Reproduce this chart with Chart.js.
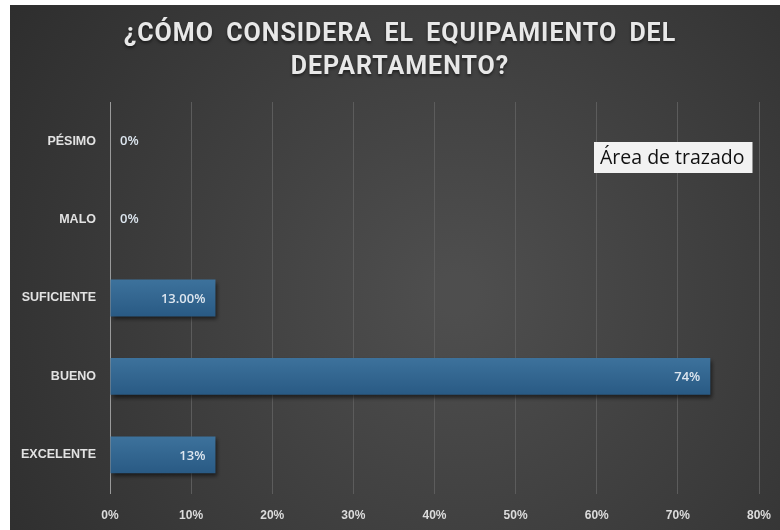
<!DOCTYPE html>
<html>
<head>
<meta charset="utf-8">
<script src="https://cdn.jsdelivr.net/npm/chart.js@4.4.1/dist/chart.umd.min.js"></script>
<style>
  html,body{margin:0;padding:0;background:#fff;}
  #wrap{position:absolute;left:10px;top:5px;width:770px;height:525px;}
</style>
</head>
<body>
<div id="wrap"><canvas id="chart" width="770" height="525"></canvas></div>
<script>
const categories = ['PÉSIMO', 'MALO', 'SUFICIENTE', 'BUENO', 'EXCELENTE'];
const values = [0, 0, 13, 74, 13];
const labelDecimals = [0, 0, 2, 0, 0];
const xTicks = [0, 10, 20, 30, 40, 50, 60, 70, 80];
const titleLines = ['¿CÓMO CONSIDERA EL EQUIPAMIENTO DEL', 'DEPARTAMENTO?'];
const hintText = 'Área de trazado';

(function(){
  const el = document.getElementById('chart');
  const BAR_PCT = 0.47;
  const FONT = '"Liberation Sans", Arial, sans-serif';

  // dark radial backdrop
  const backdrop = {
    id: 'backdrop',
    beforeDraw(chart){
      const { ctx, width, height } = chart;
      const g = ctx.createRadialGradient(width*0.58, height*0.55, 20, width*0.58, height*0.55, width*0.75);
      g.addColorStop(0, '#4e4e4e');
      g.addColorStop(1, '#2b2b2b');
      ctx.save();
      ctx.fillStyle = g;
      ctx.fillRect(0, 0, width, height);
      ctx.restore();
    }
  };

  // two-line heading
  const heading = {
    id: 'heading',
    afterDraw(chart){
      const { ctx } = chart;
      ctx.save();
      ctx.font = 'bold 25px Roboto, "Liberation Sans", sans-serif';
      ctx.letterSpacing = '1px';
      ctx.wordSpacing = '5px';
      ctx.fillStyle = '#e8e8e8';
      ctx.textAlign = 'center';
      ctx.textBaseline = 'middle';
      ctx.shadowColor = 'rgba(0,0,0,0.5)';
      ctx.shadowOffsetY = 2;
      ctx.shadowBlur = 3;
      ctx.fillText(titleLines[0], 390, 29.5);
      ctx.fillText(titleLines[1], 390, 62.5);
      ctx.restore();
    }
  };

  // bar shadow
  const barShadow = {
    id: 'barShadow',
    beforeDatasetDraw(chart){
      const ctx = chart.ctx;
      ctx.save();
      ctx.shadowColor = 'rgba(0,0,0,0.55)';
      ctx.shadowOffsetX = 2;
      ctx.shadowOffsetY = 3;
      ctx.shadowBlur = 4;
    },
    afterDatasetDraw(chart){ chart.ctx.restore(); }
  };

  // value labels at bar ends
  const valueLabels = {
    id: 'valueLabels',
    afterDatasetsDraw(chart){
      const { ctx } = chart;
      const meta = chart.getDatasetMeta(0);
      ctx.save();
      ctx.font = '600 13px "Open Sans", ' + FONT;
      ctx.fillStyle = '#dde6ef';
      ctx.textBaseline = 'middle';
      meta.data.forEach((bar, i) => {
        const txt = values[i].toFixed(labelDecimals[i]) + '%';
        if(values[i] > 0){
          ctx.textAlign = 'right';
          ctx.fillText(txt, bar.x - 10, bar.y + 1);
        } else {
          ctx.textAlign = 'left';
          ctx.fillText(txt, bar.base + 10, bar.y);
        }
      });
      ctx.restore();
    }
  };

  // plot-area hint box
  const hint = {
    id: 'hint',
    afterDraw(chart){
      const { ctx } = chart;
      ctx.save();
      ctx.font = '19.5px "Open Sans", ' + FONT;
      const w = ctx.measureText(hintText).width + 14;
      const x = 584, y = 137;
      ctx.fillStyle = '#f2f2f2';
      ctx.fillRect(x, y, w, 31);
      ctx.fillStyle = '#111';
      ctx.textBaseline = 'middle';
      ctx.fillText(hintText, x + 6, y + 16);
      ctx.restore();
    }
  };

  function barFill(c){
    const a = c.chart.chartArea;
    const ys = c.chart.scales.y;
    if(!a || !ys || c.dataIndex === undefined) return '#2e6089';
    const cy = ys.getPixelForValue(c.dataIndex);
    const h = (a.bottom - a.top) / categories.length * BAR_PCT;
    if(!isFinite(cy) || !isFinite(h)) return '#2e6089';
    const g = c.chart.ctx.createLinearGradient(0, cy - h/2, 0, cy + h/2);
    g.addColorStop(0, '#3d729c');
    g.addColorStop(1, '#295a84');
    return g;
  }

  new Chart(el, {
    type: 'bar',
    data: {
      labels: categories,
      datasets: [{
        data: values,
        backgroundColor: barFill,
        borderWidth: 0,
        categoryPercentage: 1,
        barPercentage: BAR_PCT
      }]
    },
    options: {
      indexAxis: 'y',
      responsive: false,
      animation: false,
      layout: { padding: { top: 97, right: 21, bottom: 0, left: 0 } },
      plugins: { legend: { display: false }, tooltip: { enabled: false }, title: { display: false } },
      scales: {
        x: {
          min: 0, max: 80,
          afterBuildTicks: (s) => { s.ticks = xTicks.map(v => ({ value: v })); },
          ticks: { callback: (v) => v + '%', color: '#dcdcdc', font: { family: FONT, size: 12, weight: 'bold' }, padding: 14 },
          grid: { color: (c) => c.index === 0 ? '#9a9a9a' : '#5c5c5c', lineWidth: 1, drawTicks: false },
          border: { display: false },
          afterFit: (s) => { s.height = 36; s.paddingLeft = 0; s.paddingRight = 0; }
        },
        y: {
          ticks: { color: '#e2e2e2', font: { family: FONT, size: 12.5, weight: 'bold' }, padding: 6 },
          grid: { display: false },
          border: { display: false },
          afterFit: (s) => { s.width = 100; }
        }
      }
    },
    plugins: [backdrop, barShadow, valueLabels, heading, hint]
  });
})();
</script>
</body>
</html>
